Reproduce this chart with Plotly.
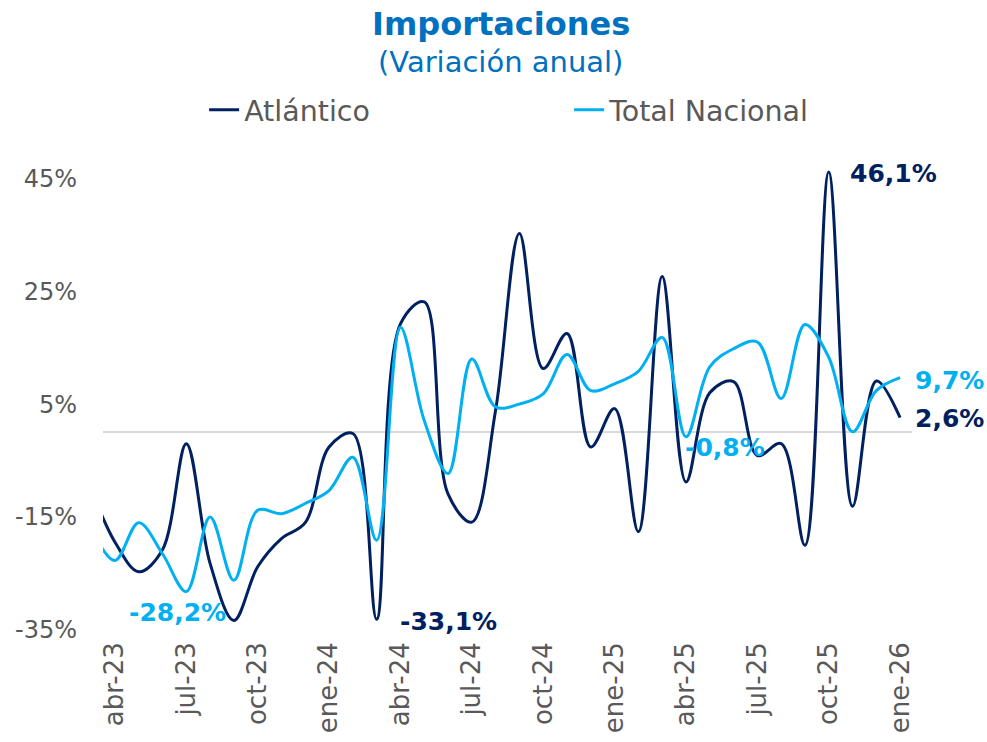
import plotly.graph_objects as go

months = ["mar-23", "abr-23", "may-23", "jun-23", "jul-23", "ago-23", "sep-23", "oct-23",
          "nov-23", "dic-23", "ene-24", "feb-24", "mar-24", "abr-24", "may-24", "jun-24",
          "jul-24", "ago-24", "sep-24", "oct-24", "nov-24", "dic-24", "ene-25", "feb-25",
          "mar-25", "abr-25", "may-25", "jun-25", "jul-25", "ago-25", "sep-25", "oct-25",
          "nov-25", "dic-25", "ene-26"]

atlantico = [-10.0, -19.4, -24.7, -20.8, -2.0, -23.2, -33.3, -23.8, -18.8, -16.0, -2.6, -0.2,
             -33.1, 19.2, 23.1, -10.9, -15.9, 3.9, 35.2, 11.3, 17.5, -2.6, 4.2, -17.6,
             27.6, -8.8, 7.0, 9.0, -4.1, -2.0, -20.0, 46.1, -13.1, 9.1, 2.6]

total_nacional = [-17.0, -22.7, -16.0, -21.5, -28.2, -15.0, -26.2, -13.8, -14.4, -12.6, -10.3, -4.4,
                  -19.1, 18.6, 2.1, -7.3, 13.0, 4.5, 5.0, 6.8, 13.8, 7.4, 8.6, 10.8,
                  16.8, -0.8, 11.6, 14.8, 16.0, 6.0, 19.1, 13.3, 0.1, 7.4, 9.7]

tick_months = ["abr-23", "jul-23", "oct-23", "ene-24", "abr-24", "jul-24", "oct-24",
               "ene-25", "abr-25", "jul-25", "oct-25", "ene-26"]
y_ticks = [-35, -15, 5, 25, 45]
y_ticktext = ["-35%", "-15%", "5%", "25%", "45%"]

DARK = "#002060"
CYAN = "#00B0F0"
GREY = "#595959"
FONT = "DejaVu Sans"

fig = go.Figure()
fig.add_trace(go.Scatter(x=months, y=atlantico, name="Atlántico", mode="lines",
                         line=dict(color=DARK, width=3, shape="spline", smoothing=1.0)))
fig.add_trace(go.Scatter(x=months, y=total_nacional, name="Total Nacional", mode="lines",
                         line=dict(color=CYAN, width=3, shape="spline", smoothing=1.0)))

def lab(month, series, color, xanchor, xshift, yshift):
    i = months.index(month)
    v = series[i]
    fig.add_annotation(x=month, y=v, text=f"<b>{v:.1f}%</b>".replace(".", ","),
                       showarrow=False, xanchor=xanchor, yanchor="middle",
                       xshift=xshift, yshift=yshift,
                       font=dict(family=FONT, size=25, color=color))

lab("oct-25", atlantico, DARK, "left", 19, -1)
lab("ene-26", atlantico, DARK, "left", 13, -1)
lab("ene-26", total_nacional, CYAN, "left", 13, -3)
lab("abr-25", total_nacional, CYAN, "left", -3, -11)
lab("mar-24", atlantico, DARK, "left", 21, -2)
lab("jul-23", total_nacional, CYAN, "center", -9, -21)

fig.add_annotation(text="<b>Importaciones</b>", xref="paper", yref="paper",
                   x=0.5, y=1, xanchor="center", yanchor="middle", showarrow=False,
                   xshift=-7, yshift=126, font=dict(family=FONT, size=32, color="#0070C0"))
fig.add_annotation(text="(Variación anual)", xref="paper", yref="paper",
                   x=0.5, y=1, xanchor="center", yanchor="middle", showarrow=False,
                   xshift=-7, yshift=88, font=dict(family=FONT, size=29, color="#0070C0"))

fig.update_layout(
    width=987, height=742,
    margin=dict(l=103, r=75, t=150, b=112, autoexpand=False),
    paper_bgcolor="white", plot_bgcolor="white",
    font=dict(family=FONT, color=GREY),
    showlegend=True,
    hovermode=False,
    legend=dict(orientation="h", x=0.125, y=1.03, xanchor="left", yanchor="bottom",
                entrywidth=320, entrywidthmode="pixels",
                font=dict(family=FONT, size=28.5, color=GREY), bgcolor="rgba(0,0,0,0)"),
    xaxis=dict(type="category", categoryorder="array", categoryarray=months,
               range=[0.5, len(months) - 0.5], tickvals=tick_months, ticktext=tick_months,
               tickangle=-90, showgrid=False, zeroline=False, showline=False, ticks="",
               automargin=False, ticklabelstandoff=6,
               tickfont=dict(family=FONT, size=26, color=GREY)),
    yaxis=dict(range=[-35, 50], tickvals=y_ticks, ticktext=y_ticktext,
               showgrid=False, zeroline=True, zerolinecolor="#D9D9D9", zerolinewidth=2,
               showline=False, ticks="", ticklabelstandoff=25, automargin=False,
               tickfont=dict(family=FONT, size=24, color=GREY)),
)

# remove the browser's default 8px body margin so the figure fills the window
fig.write_html("out.html", config={"displayModeBar": False},
               post_script="document.body.style.margin='0';document.body.style.overflow='hidden';")
